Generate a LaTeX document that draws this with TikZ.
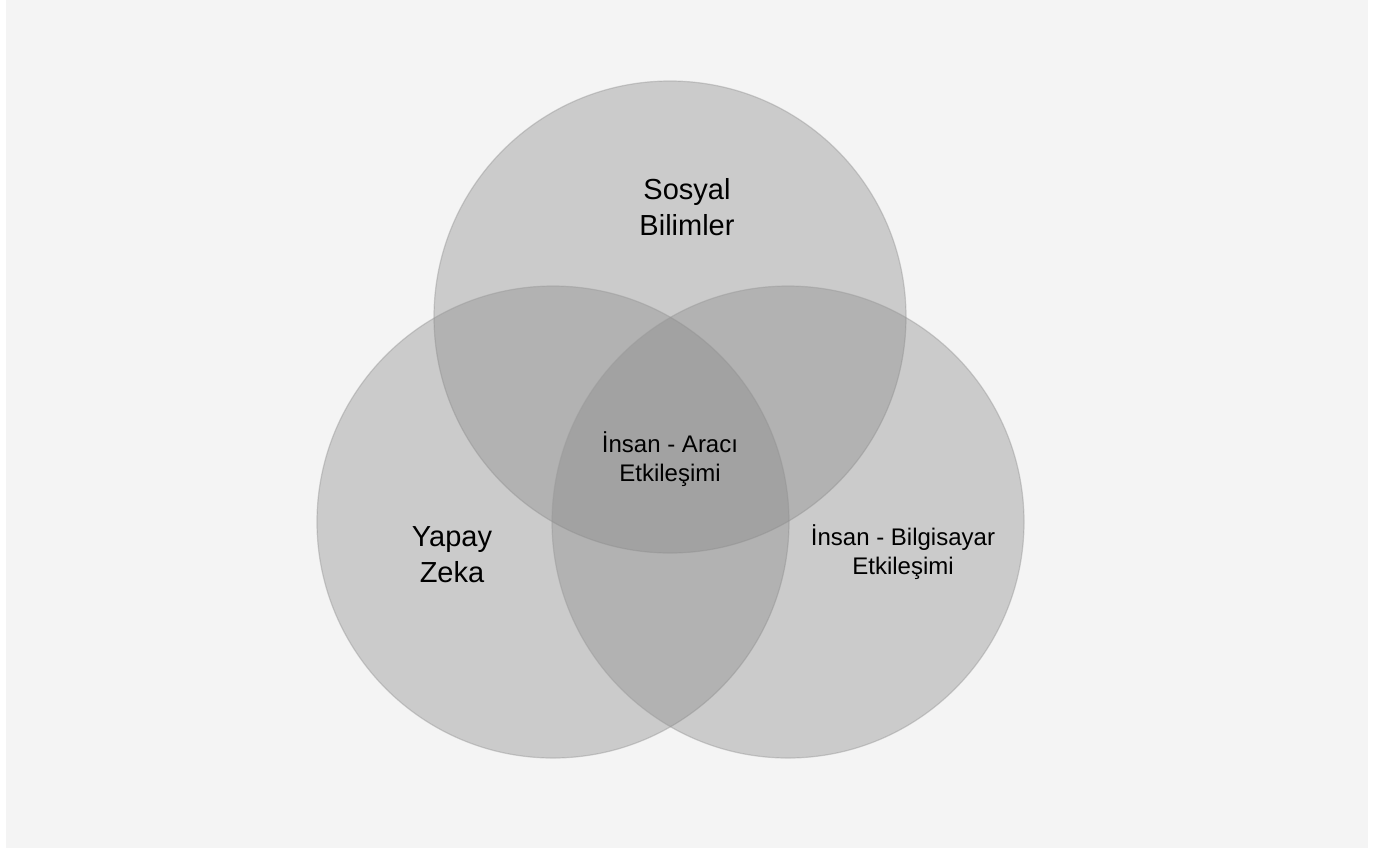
\documentclass[tikz,border=0pt]{standalone}
\usepackage{fontspec}
\setmainfont{Liberation Sans}
\usepackage{tikz}
\definecolor{bggray}{HTML}{F4F4F4}
\definecolor{setfill}{HTML}{898989}
\definecolor{setedge}{HTML}{9A9A9A}
\tikzstyle{setcircle}=[circle, draw=setedge, draw opacity=0.45, line width=0.6pt, fill=setfill, fill opacity=0.375, minimum size=236pt, inner sep=0pt]
\tikzstyle{biglabel}=[align=center, inner sep=0pt, font=\fontsize{14.5}{18}\selectfont]
\tikzstyle{smalllabel}=[align=center, inner sep=0pt, font=\fontsize{12}{14.5}\selectfont]

\begin{document}
\begin{tikzpicture}[x=0.5pt, y=-0.5pt]
				\useasboundingbox (0,0) rectangle (1386,848);
				\fill[bggray] (6,0) rectangle (1368,848);
				% the three sets
				\node[setcircle] (sosyal) at (670,317) {};
				\node[setcircle] (yz) at (553,522) {};
				\node[setcircle] (ibe) at (788,522) {};
				% labels
				\node[biglabel] (sosyallbl) at (687,207) {Sosyal\\Bilimler};
				\node[biglabel] (yzlbl) at (452,555) {Yapay\\Zeka};
				\node[smalllabel] (ibelbl) at (903,552) {İnsan - Bilgisayar\\Etkileşimi};
				\node[smalllabel] (ialbl) at (670,459) {İnsan - Aracı\\Etkileşimi};
			\end{tikzpicture}
\end{document}
